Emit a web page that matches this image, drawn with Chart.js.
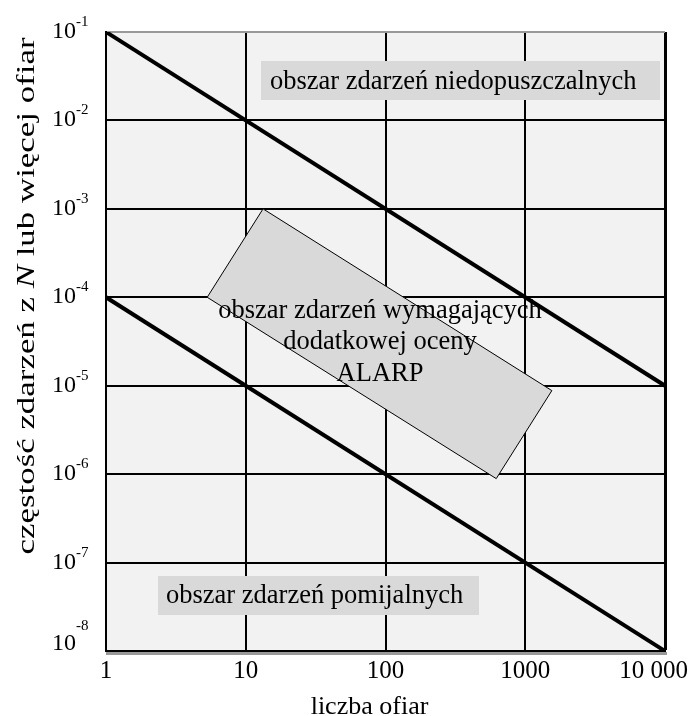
<!DOCTYPE html>
<html>
<head>
<meta charset="utf-8">
<script src="https://cdn.jsdelivr.net/npm/chart.js@4"></script>
<style>
  body { margin: 0; background: #fff; }
</style>
</head>
<body>
<canvas id="fn-chart" width="689" height="716"></canvas>
<script>
// axis ticks
var xTicks = [1, 10, 100, 1000, 10000];
var xTickLabels = ['1', '10', '100', '1000', '10 000'];
var yTicks = [1e-8, 1e-7, 1e-6, 1e-5, 1e-4, 1e-3, 1e-2, 1e-1];
var yTickExp = ['-8', '-7', '-6', '-5', '-4', '-3', '-2', '-1'];

// F-N criterion lines
var upperX = [1, 10000];
var upperY = [1e-1, 1e-5];
var lowerX = [1, 10000];
var lowerY = [1e-4, 1e-8];

// ALARP region (corners of the tilted box)
var alarpX = [13.3, 1550, 620, 5.3, 13.3];
var alarpY = [1e-3, 8.8e-6, 8.9e-7, 1e-4, 1e-3];

var regionTop = 'obszar zdarzeń niedopuszczalnych';
var regionBottom = 'obszar zdarzeń pomijalnych';
var regionMid = ['obszar zdarzeń wymagających', 'dodatkowej oceny', 'ALARP'];

function toPoints(xs, ys) {
  return xs.map(function (x, i) { return { x: x, y: ys[i] }; });
}

var FONT = '"Liberation Serif", "Times New Roman", serif';

var decorPlugin = {
  id: 'decor',
  beforeDraw: function (chart) {
    var ctx = chart.ctx, a = chart.chartArea;
    ctx.save();
    ctx.fillStyle = '#f2f2f2';
    ctx.fillRect(a.left, a.top, a.right - a.left, a.bottom - a.top);
    // shadow under the x axis
    ctx.fillStyle = '#999';
    ctx.fillRect(a.left, a.bottom + 1, a.right - a.left + 2, 3);
    ctx.restore();
  },
  afterDatasetsDraw: function (chart) {
    var ctx = chart.ctx, a = chart.chartArea;
    ctx.save();
    ctx.font = '26.5px ' + FONT;
    ctx.textBaseline = 'alphabetic';

    // upper label box
    ctx.fillStyle = '#d9d9d9';
    ctx.fillRect(a.left + 155, a.top + 29, 399, 39);
    ctx.fillStyle = '#000';
    ctx.textAlign = 'left';
    ctx.fillText(regionTop, a.left + 164, a.top + 57);

    // lower label box
    ctx.fillStyle = '#d9d9d9';
    ctx.fillRect(a.left + 52, a.top + 544, 321, 39);
    ctx.fillStyle = '#000';
    ctx.fillText(regionBottom, a.left + 60, a.top + 571);

    // ALARP text
    ctx.textAlign = 'center';
    var cx = a.left + 274;
    var lineY = [286, 317, 349];
    regionMid.forEach(function (t, i) {
      ctx.fillText(t, cx, a.top + lineY[i]);
    });
    ctx.restore();
  },
  afterDraw: function (chart) {
    var ctx = chart.ctx, a = chart.chartArea;
    var xs = chart.scales.x, ys = chart.scales.y;
    ctx.save();
    ctx.fillStyle = '#000';

    // y tick labels 10^n
    yTicks.forEach(function (v, i) {
      var py = ys.getPixelForValue(v);
      var base = i === 0 ? py - 1 : py + 6;
      ctx.font = '24px ' + FONT;
      ctx.textAlign = 'right';
      ctx.fillText('10', a.left - 30, base);
      ctx.font = '15px ' + FONT;
      ctx.textAlign = 'left';
      ctx.fillText(yTickExp[i], a.left - 30, base - (i === 0 ? 20 : 12));
    });

    // x tick labels
    ctx.font = '25px ' + FONT;
    ctx.textAlign = 'center';
    xTicks.forEach(function (v, i) {
      var px = xs.getPixelForValue(v);
      var w = ctx.measureText(xTickLabels[i]).width;
      px = Math.min(px, chart.width - 1 - w / 2);
      ctx.fillText(xTickLabels[i], px, a.bottom + 27);
    });

    // x axis title
    ctx.font = '26px ' + FONT;
    ctx.fillText('liczba ofiar', (a.left + a.right) / 2 - 16, a.bottom + 63);

    // y axis title with italic N, stretched along its baseline like the original
    var parts = [
      { t: 'częstość zdarzeń z ', f: '26px ' + FONT },
      { t: 'N', f: 'italic 26px ' + FONT },
      { t: ' lub więcej ofiar', f: '26px ' + FONT }
    ];
    var total = 0;
    parts.forEach(function (p) { ctx.font = p.f; p.w = ctx.measureText(p.t).width; total += p.w; });
    var target = 517;
    ctx.translate(34, 296);
    ctx.rotate(-Math.PI / 2);
    ctx.scale(target / total, 1);
    ctx.textAlign = 'left';
    var x0 = -total / 2;
    parts.forEach(function (p) { ctx.font = p.f; ctx.fillText(p.t, x0, 0); x0 += p.w; });
    ctx.restore();
  }
};

new Chart(document.getElementById('fn-chart'), {
  type: 'scatter',
  data: {
    datasets: [{
      label: 'upper',
      data: toPoints(upperX, upperY),
      showLine: true,
      borderColor: '#000',
      borderWidth: 4,
      pointRadius: 0
    }, {
      label: 'lower',
      data: toPoints(lowerX, lowerY),
      showLine: true,
      borderColor: '#000',
      borderWidth: 4,
      pointRadius: 0
    }, {
      label: 'ALARP',
      data: toPoints(alarpX, alarpY),
      showLine: true,
      borderColor: '#000',
      borderWidth: 1,
      backgroundColor: '#d9d9d9',
      fill: 'shape',
      pointRadius: 0,
      tension: 0
    }]
  },
  options: {
    responsive: false,
    animation: false,
    layout: { padding: { left: 106, right: 24, top: 32, bottom: 65 } },
    plugins: {
      legend: { display: false },
      tooltip: { enabled: false }
    },
    scales: {
      x: {
        type: 'logarithmic',
        min: 1,
        max: 10000,
        afterBuildTicks: function (scale) {
          scale.ticks = xTicks.map(function (v) { return { value: v }; });
        },
        ticks: { display: false },
        grid: {
          drawTicks: false,
          color: '#000',
          lineWidth: function (c) { return c.tick && c.tick.value === 10000 ? 3 : 2; }
        },
        border: { color: '#000', width: 2 }
      },
      y: {
        type: 'logarithmic',
        min: 1e-8,
        max: 1e-1,
        afterBuildTicks: function (scale) {
          scale.ticks = yTicks.map(function (v) { return { value: v }; });
        },
        ticks: { display: false },
        grid: {
          drawTicks: false,
          color: function (c) { return c.tick && c.tick.value === 1e-1 ? '#999' : '#000'; },
          lineWidth: 2
        },
        border: { color: '#000', width: 2 }
      }
    }
  },
  plugins: [decorPlugin]
});
</script>
</body>
</html>
